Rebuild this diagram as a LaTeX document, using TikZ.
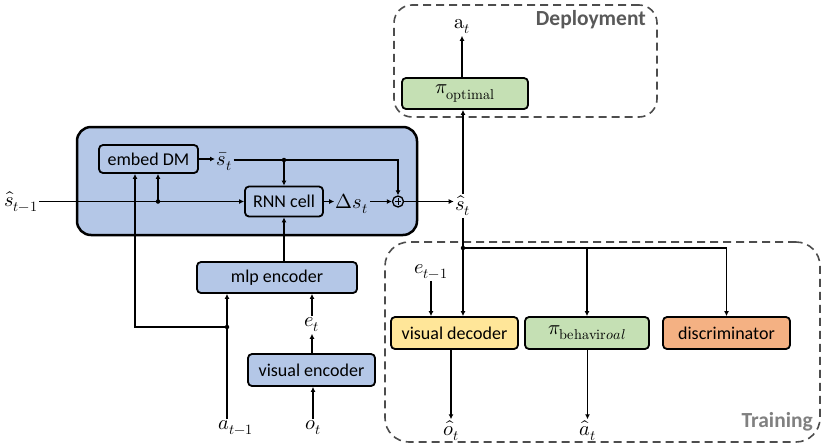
\documentclass[tikz,border=0pt]{standalone}
\usepackage{unicode-math}
\setmainfont{Carlito}
\setmathfont{latinmodern-math.otf}[Scale=1.13]
\usetikzlibrary{arrows.meta}
\definecolor{boxblue}{HTML}{B4C7E7}
\definecolor{boxgreen}{HTML}{C5E0B4}
\definecolor{boxyellow}{HTML}{FFE699}
\definecolor{boxorange}{HTML}{F4B183}
\definecolor{dashgray}{HTML}{4D4D4D}
\definecolor{deptext}{HTML}{595959}
\definecolor{traintext}{HTML}{808080}
\begin{document}
\begin{tikzpicture}[x=1pt,y=-1pt,
  every node/.style={font=\fontsize{18}{21}\selectfont},
  blk/.style={draw=black,line width=1.8pt,rounded corners=4pt,inner sep=0pt},
  lbl/.style={inner sep=1.5pt},
  conn/.style={line width=1.3pt,-{Latex[length=5pt,width=5pt]}},
  ln/.style={line width=1.3pt},
  jdot/.style={circle,fill=black,inner sep=0pt,minimum size=4.5pt},
  grp/.style={draw=dashgray,line width=1.6pt,dash pattern=on 8pt off 5pt,rounded corners=18pt,inner sep=0pt},
  grptitle/.style={font=\fontsize{21.5}{23}\selectfont\bfseries,inner sep=0pt}
]
\useasboundingbox (0,0) rectangle (822,445);

% group frames
\node[draw=black,line width=2.5pt,fill=boxblue,rounded corners=14pt,minimum width=340pt,minimum height=108pt] (core) at (247,181) {};
\node[grp,minimum width=263pt,minimum height=112pt] (deploy) at (525.5,61) {};
\node[grp,minimum width=435pt,minimum height=200pt,rounded corners=24pt] (train) at (602.5,342) {};
\node[grptitle,text=deptext,anchor=east] (deptitle) at (646,20) {Deployment};
\node[grptitle,text=traintext,anchor=east] (traintitle) at (813,422) {Training};

% blocks
\node[blk,fill=boxblue,minimum width=99pt,minimum height=28pt] (embed) at (148.5,159) {embed DM};
\node[blk,fill=boxblue,minimum width=78pt,minimum height=30pt] (rnn) at (284,201.5) {RNN cell};
\node[blk,fill=boxblue,minimum width=160pt,minimum height=31pt] (mlp) at (277,277.5) {mlp encoder};
\node[blk,fill=boxblue,minimum width=127pt,minimum height=32pt] (venc) at (311.5,370) {visual encoder};
\node[blk,fill=boxgreen,minimum width=126pt,minimum height=31pt] (popt) at (465,93.5) {$\pi_{\symup{optimal}}$};
\node[blk,fill=boxyellow,minimum width=127pt,minimum height=32pt] (vdec) at (454.5,333) {visual decoder};
\node[blk,fill=boxgreen,minimum width=124pt,minimum height=32pt] (pbeh) at (587,333) {$\pi_{\symup{behavir}oal}$};
\node[blk,fill=boxorange,minimum width=127pt,minimum height=32pt] (disc) at (726.5,333) {discriminator};

% plus
\node[circle,draw=black,line width=1.3pt,minimum size=11pt,inner sep=0pt] (plus) at (398,201.5) {};
\draw[line width=1pt] ([yshift=-3.2pt]plus.center) -- ([yshift=3.2pt]plus.center)
  ([xshift=-3.2pt]plus.center) -- ([xshift=3.2pt]plus.center);

% labels
\node[lbl] (sprev) at (21,202) {$\hat{s}_{t-1}$};
\node[lbl,anchor=west] (sbar) at (215,162) {$\bar{s}_t$};
\node[lbl] (ds) at (352,204) {$\Delta s_t$};
\node[lbl] (st) at (463,206) {$\hat{s}_t$};
\node[lbl] (at) at (462,27) {$\symup{a}_t$};
\node[lbl] (et) at (312,325) {$e_t$};
\node[lbl] (ot) at (313,428) {$o_t$};
\node[lbl] (aprev) at (236,428) {$a_{t-1}$};
\node[lbl] (eprev) at (431,272) {$e_{t-1}$};
\node[lbl] (ohat) at (451,431) {$\widehat{o}_t$};
\node[lbl] (ahat) at (587.5,431) {$\hat{a}_t$};

% junction coordinates
\coordinate (j1) at (284,160);
\coordinate (j2) at (158,201.5);
\coordinate (j3) at (135,327);
\coordinate (j4) at (227,327);
\coordinate (j5) at (463,248);

% core connectors
\draw[conn] (embed.east) -- (embed.east -| sbar.west);
\draw[ln] (sbar.east |- j1) -- (j1);
\draw[conn] (j1) -- (j1 -| plus) -- (plus.north);
\draw[conn] (j1) -- (rnn.north);
\draw[conn] (sprev.east |- rnn.west) -- (rnn.west);
\draw[conn] (j2) -- (embed.south -| j2);
\draw[conn] (rnn.east) -- (rnn.east -| ds.west);
\draw[conn] (ds.east |- plus) -- (plus.west);
\draw[conn] (plus.east) -- (plus.east -| st.west);
\node[jdot] (d1) at (j1) {};
\node[jdot] (d2) at (j2) {};

% encoders
\draw[conn] (j4) -- (j3) -- (embed.south -| j3);
\draw[conn] (aprev.north -| j4) -- (mlp.south -| j4);
\node[jdot] (d4) at (j4) {};
\draw[conn] (mlp.north -| rnn) -- (rnn.south);
\draw[conn] (et.north) -- (mlp.south -| et);
\draw[conn] (venc.north -| et) -- (et.south);
\draw[conn] (ot.north) -- (venc.south -| ot);

% deployment
\draw[conn] (st.north) -- (popt.south -| st.north);
\draw[conn] (popt.north -| at) -- (at.south);

% training
\draw[conn] (st.south) -- (j5) -- (vdec.north -| j5);
\draw[conn] (j5) -- (j5 -| disc) -- (disc.north);
\draw[conn] (j5 -| pbeh) -- (pbeh.north);
\node[jdot] (d5) at (j5) {};
\draw[conn] (eprev.south) -- (vdec.north -| eprev);
\draw[conn] (vdec.south -| ohat) -- (ohat.north);
\draw[conn] (pbeh.south -| ahat) -- (ahat.north);
\end{tikzpicture}
\end{document}
